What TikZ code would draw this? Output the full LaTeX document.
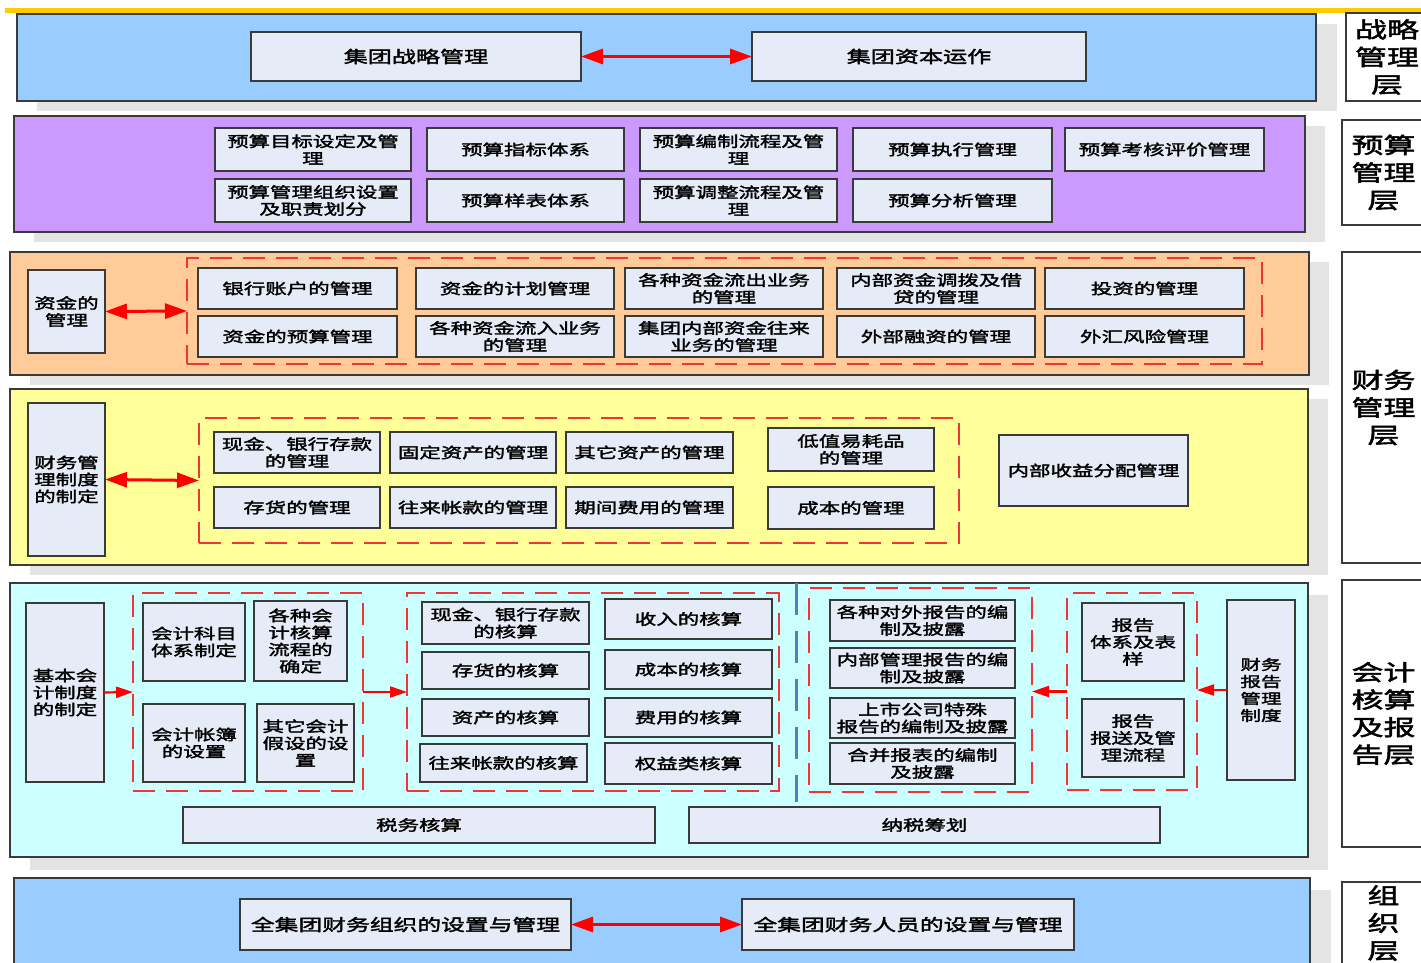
\documentclass[tikz,border=0pt]{standalone}
\usepackage{fontspec}
\setmainfont{Noto Sans CJK SC}[FakeStretch=1.45, FakeBold=2.2]
\usetikzlibrary{arrows.meta}
\definecolor{bandblue}{HTML}{99CCFF}
\definecolor{bandpurple}{HTML}{CC99FF}
\definecolor{bandorange}{HTML}{FFCC99}
\definecolor{bandyellow}{HTML}{FFFF99}
\definecolor{bandcyan}{HTML}{CCFFFF}
\definecolor{boxfill}{HTML}{E6ECF7}
\definecolor{bordc}{HTML}{3A3A3A}
\definecolor{shad}{HTML}{E4E4E4}
\definecolor{topyellow}{HTML}{FFCC00}
\definecolor{dashred}{HTML}{F03535}
\definecolor{sepblue}{HTML}{4F81BD}
\newcommand\R[7][bx]{\node[#1,minimum width={(#5)-(#3)},minimum height={(#6)-(#4)}] (#2) at ({((#3)+(#5))/2},{((#4)+(#6))/2}) {#7};}
\tikzset{
  band/.style={draw=bordc, line width=1.4pt, inner sep=0pt, outer sep=0pt},
  bx/.style={draw=bordc, fill=boxfill, line width=1.5pt, inner sep=0pt, outer sep=0pt, align=center, text=black, font=\fontsize{14.8}{17}\selectfont},
  bigbx/.style={bx, font=\fontsize{16.6}{19}\selectfont},
  grp/.style={draw=dashred, dash pattern=on 22pt off 11pt, line width=1.8pt, inner sep=0pt, outer sep=0pt},
  lbl/.style={draw=bordc, fill=white, line width=1.5pt, inner sep=0pt, outer sep=0pt, align=center, font=\fontsize{22}{27.5}\selectfont},
  dbl/.style={draw=red, line width=3pt, {Triangle[length=22pt,width=15pt]}-{Triangle[length=22pt,width=15pt]}},
  one/.style={draw=red, line width=2.2pt, -{Triangle[length=17pt,width=11pt]}},
  sep/.style={draw=sepblue, line width=3pt, dash pattern=on 32pt off 16pt}
}
\begin{document}
\begin{tikzpicture}[x=1pt,y=-1pt]
\useasboundingbox (0,0) rectangle (1421,963);
\clip (0,0) rectangle (1421,963);
\fill[white] (0,0) rectangle (1421,963);
% top line
\fill[topyellow] (5,8) rectangle (1421,13);
% ---------- band 1
\fill[shad] (37,24) rectangle (1337,111);
\R[band,fill=bandblue]{b1}{17}{14}{1316}{101}{}
\R[bigbx]{s1}{251}{32}{581}{81}{集团战略管理}
\R[bigbx]{s2}{752}{32}{1086}{81}{集团资本运作}
\draw[dbl] (s1.east) -- (s2.west);
% ---------- band 2
\fill[shad] (34,126) rectangle (1325,242);
\R[band,fill=bandpurple]{b2}{14}{116}{1305}{232}{}
\R{p11}{215}{128}{411}{171}{预算目标设定及管\\理}
\R{p21}{215}{179}{411}{222}{预算管理组织设置\\及职责划分}
\R{p12}{427}{128}{624}{171}{预算指标体系}
\R{p22}{427}{179}{624}{222}{预算样表体系}
\R{p13}{640}{128}{837}{171}{预算编制流程及管\\理}
\R{p23}{640}{179}{837}{222}{预算调整流程及管\\理}
\R{p14}{853}{128}{1052}{171}{预算执行管理}
\R{p24}{853}{179}{1052}{222}{预算分析管理}
\R{p15}{1065}{128}{1264}{171}{预算考核评价管理}
% ---------- band 3
\fill[shad] (30,262) rectangle (1329,385);
\R[band,fill=bandorange]{b3}{10}{252}{1309}{375}{}
\R{zj}{28}{270}{105}{353}{资金的\\管理}
\R[grp]{g3}{187}{258}{1262}{364}{}
\R{f11}{198}{268}{397}{309}{银行账户的管理}
\R{f21}{198}{316}{397}{357}{资金的预算管理}
\R{f12}{416}{268}{614}{309}{资金的计划管理}
\R{f22}{416}{316}{614}{357}{各种资金流入业务\\的管理}
\R{f13}{625}{268}{823}{309}{各种资金流出业务\\的管理}
\R{f23}{625}{316}{823}{357}{集团内部资金往来\\业务的管理}
\R{f14}{837}{268}{1035}{309}{内部资金调拨及借\\贷的管理}
\R{f24}{837}{316}{1035}{357}{外部融资的管理}
\R{f15}{1045}{268}{1244}{309}{投资的管理}
\R{f25}{1045}{316}{1244}{357}{外汇风险管理}
\draw[dbl] (zj.east) -- (g3.west);
% ---------- band 4
\fill[shad] (30,399) rectangle (1328,575);
\R[band,fill=bandyellow]{b4}{10}{389}{1308}{565}{}
\R{cw}{28}{403}{105}{556}{财务管\\理制度\\的制定}
\R[grp]{g4}{199}{418}{959}{543}{}
\R{m11}{214}{432}{380}{473}{现金、银行存款\\的管理}
\R{m21}{214}{487}{380}{528}{存货的管理}
\R{m12}{390}{432}{556}{473}{固定资产的管理}
\R{m22}{390}{487}{556}{528}{往来帐款的管理}
\R{m13}{566}{432}{733}{473}{其它资产的管理}
\R{m23}{566}{487}{733}{528}{期间费用的管理}
\R{m14}{768}{428}{934}{471}{低值易耗品\\的管理}
\R{m24}{768}{487}{934}{529}{成本的管理}
\R{nb}{999}{435}{1188}{506}{内部收益分配管理}
\draw[dbl] (cw.east) -- (g4.west);
% ---------- band 5
\fill[shad] (30,595) rectangle (1328,870);
\R[band,fill=bandcyan]{b5}{10}{583}{1308}{857}{}
\R{jb}{26}{603}{104}{782}{基本会\\计制度\\的制定}
\R[grp]{g5a}{133}{593}{363}{791}{}
\R{a11}{143}{603}{245}{681}{会计科目\\体系制定}
\R{a12}{254}{601}{347}{681}{各种会\\计核算\\流程的\\确定}
\R{a21}{143}{704}{245}{782}{会计帐簿\\的设置}
\R{a22}{257}{704}{354}{782}{其它会计\\假设的设\\置}
\R[grp]{g5b}{407}{593}{779}{791}{}
\R{k11}{422}{602}{589}{644}{现金、银行存款\\的核算}
\R{k12}{605}{599}{772}{639}{收入的核算}
\R{k21}{422}{652}{589}{689}{存货的核算}
\R{k22}{605}{650}{772}{689}{成本的核算}
\R{k31}{422}{699}{589}{736}{资产的核算}
\R{k32}{605}{698}{772}{737}{费用的核算}
\R{k41}{420}{744}{587}{782}{往来帐款的核算}
\R{k42}{605}{743}{772}{784}{权益类核算}
\coordinate (sepT) at (796,583);
\coordinate (sepB) at (796,802);
\draw[sep] (sepT) -- (sepB);
\R[grp]{g5c}{809}{588}{1032}{792}{}
\R{r1}{830}{600}{1015}{641}{各种对外报告的编\\制及披露}
\R{r2}{830}{648}{1015}{688}{内部管理报告的编\\制及披露}
\R{r3}{830}{698}{1015}{738}{上市公司特殊\\报告的编制及披露}
\R{r4}{830}{743}{1015}{784}{合并报表的编制\\及披露}
\R[grp]{g5d}{1067}{593}{1197}{790}{}
\R{q1}{1082}{603}{1184}{681}{报告\\体系及表\\样}
\R{q2}{1082}{699}{1184}{777}{报告\\报送及管\\理流程}
\R[bx,font=\fontsize{14.2}{17}\selectfont]{cb}{1227}{600}{1295}{780}{财务\\报告\\管理\\制度}
\R{tax}{183}{807}{655}{843}{税务核算}
\R{plan}{689}{807}{1160}{843}{纳税筹划}
\draw[one] (jb.east) -- (g5a.west);
\draw[one] (g5a.east) -- (g5b.west);
\draw[one] (cb.west) -- (cb.west -| g5d.east);
\draw[one] (g5d.west) -- (g5d.west -| g5c.east);
% ---------- band 6
\fill[shad] (34,890) rectangle (1331,990);
\R[band,fill=bandblue]{b6}{14}{878}{1310}{990}{}
\R[bx,font=\fontsize{16.4}{19}\selectfont]{o1}{240}{899}{571}{950}{全集团财务组织的设置与管理}
\R[bx,font=\fontsize{16.4}{19}\selectfont]{o2}{742}{899}{1074}{950}{全集团财务人员的设置与管理}
\draw[dbl] (o1.east) -- (o2.west);
% ---------- right labels
\R[lbl]{L1}{1346}{13}{1428}{101}{战略\\管理\\层}
\R[lbl]{L2}{1342}{120}{1425}{225}{预算\\管理\\层}
\R[lbl]{L3}{1342}{252}{1425}{563}{财务\\管理\\层}
\R[lbl]{L4}{1342}{580}{1425}{847}{会计\\核算\\及报\\告层}
\R[lbl]{L5}{1342}{882}{1425}{964}{组\\织\\层}
\end{tikzpicture}
\end{document}
